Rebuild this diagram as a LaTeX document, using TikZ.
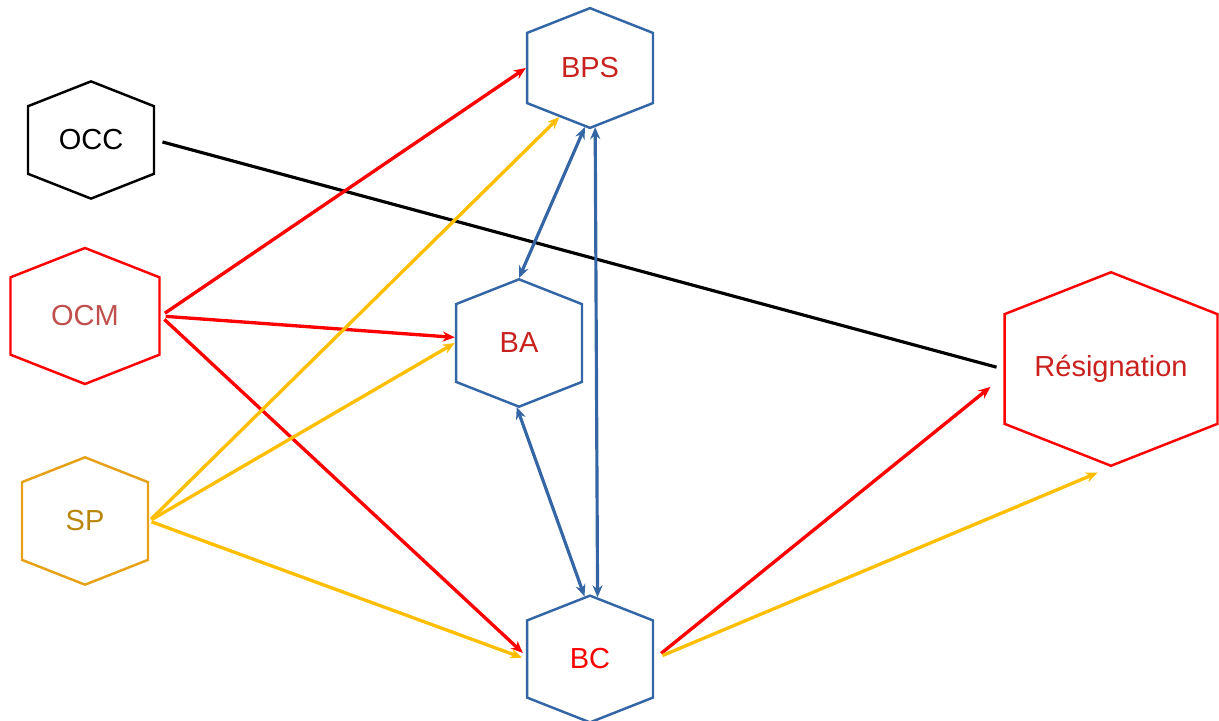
\documentclass[tikz,border=0pt]{standalone}
\usepackage{fontspec}
\setmainfont{Liberation Sans}
\usetikzlibrary{shapes.symbols,arrows.meta}

\definecolor{hexblue}{HTML}{3465A4}
\definecolor{hexred}{HTML}{FF0000}
\definecolor{hexgold}{HTML}{E6A118}
\definecolor{textred}{HTML}{C9211E}
\definecolor{textmuted}{HTML}{C0504D}
\definecolor{textgold}{HTML}{B8860B}
\definecolor{arrowyellow}{HTML}{FFBF00}

\tikzset{
  hexa/.style={signal, signal to=north and south, signal pointer angle=137,
    draw, line width=1.4pt, inner sep=0pt,
    minimum width=2.52cm, minimum height=1.86cm,
    font=\fontsize{16.5}{20}\selectfont},
  tip/.style={-{Stealth[length=2.4mm,width=2mm]}},
  redline/.style={draw=hexred, line width=1.9pt, tip},
  yellowline/.style={draw=arrowyellow, line width=1.9pt, tip},
  blueline/.style={draw=hexblue, line width=1.8pt,
    {Stealth[length=2.4mm,width=2mm]}-{Stealth[length=2.4mm,width=2mm]}}
}

\begin{document}
\begin{tikzpicture}[x=0.02cm, y=-0.02cm]
        \useasboundingbox (0,0) rectangle (1219,720);

        % Nodes
        \node (occ) [hexa, draw=black, text=black] at (91,140) {OCC};
        \node (ocm) [hexa, draw=hexred, text=textmuted, minimum width=2.98cm, minimum height=2.08cm] at (85,316) {OCM};
        \node (sp) [hexa, draw=hexgold, text=textgold] at (85,521) {SP};
        \node (bps) [hexa, draw=hexblue, text=textred] at (590,68) {BPS};
        \node (ba) [hexa, draw=hexblue, text=textred] at (519,343) {BA};
        \node (bc) [hexa, draw=hexblue, text=hexred] at (590,659) {BC};
        \node (res) [hexa, draw=hexred, text=textred, minimum width=4.26cm, minimum height=3.4cm] at (1111,369) {Résignation};

        % Edges
        \draw [line width=1.8pt, shorten <=0.15cm, shorten >=0.14cm] (occ.east) -- (res.west);
        \draw [redline, shorten <=0.1cm] (ocm.east) -- (bps.west);
        \draw [redline, shorten <=0.1cm] (ocm.east) -- (ba.175);
        \draw [redline, shorten <=0.1cm, shorten >=0.08cm] (ocm.east) -- (bc.177);
        \draw [yellowline, shorten <=0.05cm] (sp.east) -- (bps.238);
        \draw [yellowline, shorten <=0.05cm] (sp.east) -- (ba.west);
        \draw [yellowline, shorten <=0.05cm, shorten >=0.08cm] (sp.east) -- (bc.west);
        \draw [blueline] (bps.265) -- (ba.north);
        \draw [blueline] (bps.275) -- (bc.83);
        \draw [blueline] (ba.268) -- (bc.95);
        \draw [redline, shorten <=0.18cm, shorten >=0.33cm] (bc.east) -- (res.184);
        \draw [yellowline, shorten <=0.18cm, shorten >=0.29cm] (bc.east) -- (res.south);

    \end{tikzpicture}
\end{document}
